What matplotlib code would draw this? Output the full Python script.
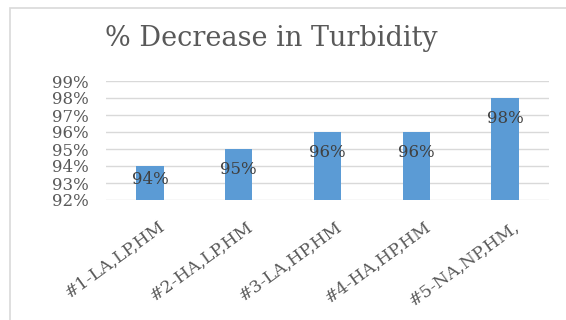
import matplotlib.pyplot as plt
import matplotlib.transforms as mtransforms
from matplotlib.patches import Rectangle

categories = ['#1-LA,LP,HM', '#2-HA,LP,HM', '#3-LA,HP,HM', '#4-HA,HP,HM', '#5-NA,NP,HM,']
values = [94, 95, 96, 96, 98]
yticks = [92, 93, 94, 95, 96, 97, 98, 99]

serif = ['DejaVu Serif']
grey = '#595959'

fig = plt.figure(figsize=(5.66, 3.2), dpi=100)
# chart frame, runs off the right and bottom edges
fig.patches.append(Rectangle((10 / 566, -0.1), 1.2, 1 - 8 / 320 + 0.1,
                             transform=fig.transFigure, fill=False,
                             edgecolor='#d9d9d9', linewidth=1.2))

ax = fig.add_axes([105.6 / 566, 1 - 200 / 320, 443.8 / 566, 119 / 320])
x = range(len(categories))
ax.bar(x, values, width=0.31, color='#5b9bd5', zorder=2)
ax.set_ylim(92, 99)
ax.set_xlim(-0.5, len(categories) - 0.5)
ax.set_yticks(yticks)
ax.set_yticklabels([f'{t}%' for t in yticks], family=serif, fontsize=12, color=grey)
ax.yaxis.grid(True, color='#d9d9d9', linewidth=1.0, zorder=0)
ax.set_axisbelow(True)
for s in ax.spines.values():
    s.set_visible(False)
ax.tick_params(axis='both', length=0)
ax.tick_params(axis='y', pad=12)

ax.set_xticks(list(x))
ax.set_xticklabels(categories, rotation=36, ha='right', va='center',
                   rotation_mode='anchor', family=serif, fontsize=12.5, color=grey)
offset = mtransforms.ScaledTranslation(13 / 100, -20 / 100, fig.dpi_scale_trans)
for lab in ax.get_xticklabels():
    lab.set_transform(lab.get_transform() + offset)

for i, v in enumerate(values):
    ax.text(i, max(v - 1.2, 93.2), f'{v}%', ha='center', va='center',
            family=serif, fontsize=12, color='#404040', zorder=3)

fig.text(271 / 566, 1 - 39 / 320, '% Decrease in Turbidity', ha='center', va='center',
         family=serif, fontsize=19.5, color=grey)

fig.savefig('out.png', dpi=100)
